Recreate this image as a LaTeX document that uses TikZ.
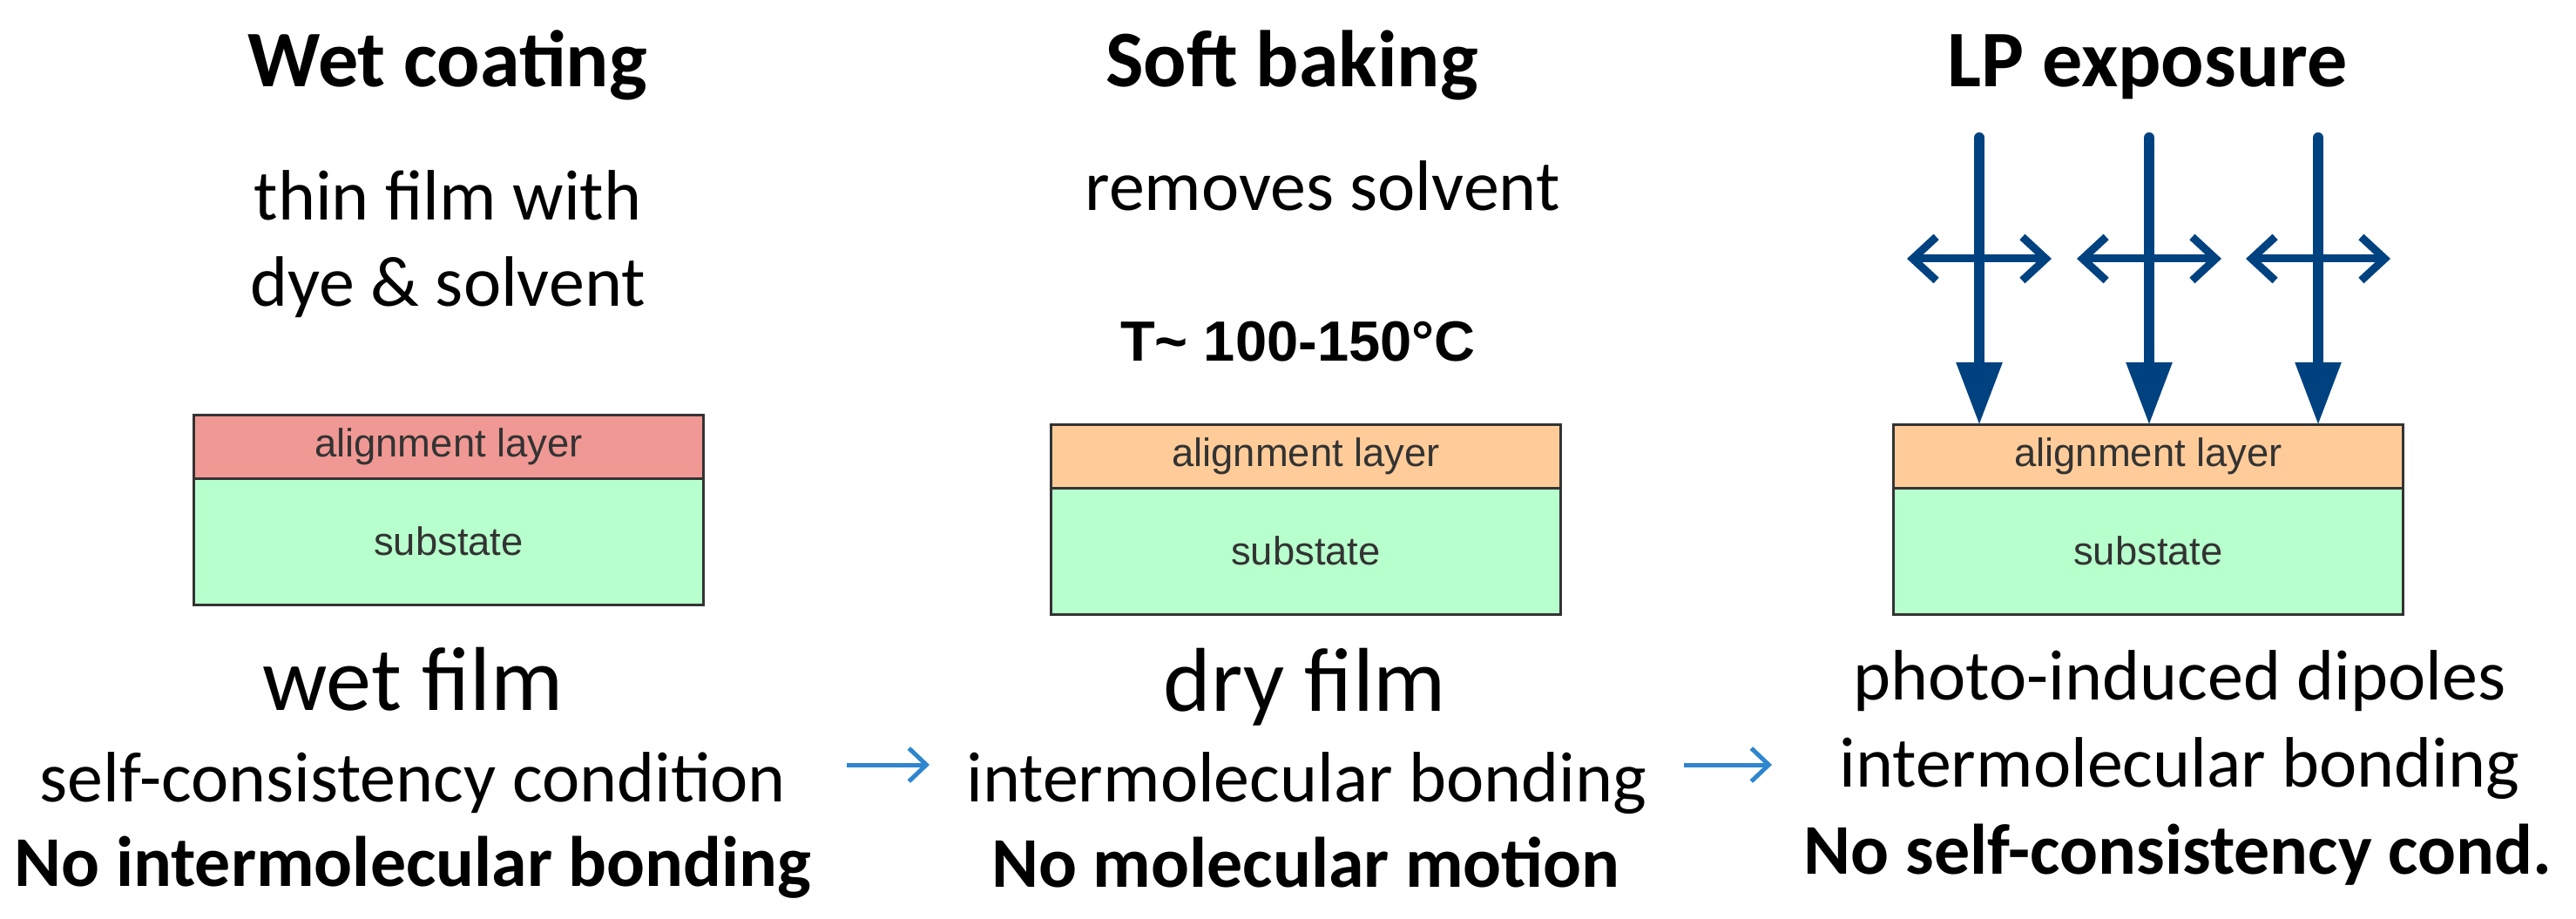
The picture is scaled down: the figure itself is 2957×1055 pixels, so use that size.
\documentclass[tikz,border=0pt]{standalone}
\usepackage{fontspec}
\setmainfont{Carlito}
\newfontfamily\arialfont{Liberation Sans}
\usetikzlibrary{arrows.meta,positioning}
\definecolor{salmon}{HTML}{F09894}
\definecolor{peach}{HTML}{FFCC99}
\definecolor{mint}{HTML}{B7FFCC}
\definecolor{lpblue}{HTML}{004280}
\definecolor{flowblue}{HTML}{2E86CE}
\begin{document}
\begin{tikzpicture}[x=0.01cm,y=-0.01cm,
  title/.style={font=\fontsize{26.2}{30}\selectfont\bfseries,anchor=base,inner sep=0},
  note/.style={font=\fontsize{23.3}{28}\selectfont,anchor=base,inner sep=0},
  big/.style={font=\fontsize{29.6}{34}\selectfont,anchor=base,inner sep=0},
  claim/.style={note,font=\fontsize{23.3}{28}\selectfont\bfseries},
  layer/.style={draw=black!80,line width=0.03cm,minimum width=5.85cm,inner sep=0,outer sep=0,
    text=black!80,font=\arialfont\fontsize{12.9}{14}\selectfont},
  film/.style={layer,minimum height=0.72cm},
  substrate/.style={layer,minimum height=1.45cm},
  ray/.style={lpblue,line width=0.12cm,line cap=round,-{Triangle[length=0.72cm,width=0.5cm]}},
  pol/.style={lpblue,line width=0.09cm,line cap=round,line join=round,
    {Straight Barb[length=0.27cm,width=0.5cm]}-{Straight Barb[length=0.27cm,width=0.5cm]}},
  flow/.style={flowblue,line width=0.05cm,-{Straight Barb[length=0.2cm,width=0.38cm]}}]
  \useasboundingbox (0,0) rectangle (2957,1055);
  % headings
  \node[title] (t1) at (514,100) {Wet coating};
  \node[title] (t2) at (1483,100) {Soft baking};
  \node[title] (t3) at (2465,100) {LP exposure};
  \node[note] (d1a) at (514,253) {thin film with};
  \node[note] (d1b) at (514,352) {dye \& solvent};
  \node[note] (d2) at (1518,242) {removes solvent};
  \node[font=\arialfont\bfseries\fontsize{18.5}{22}\selectfont,anchor=base,inner sep=0] (temp) at (1490,415) {T\textasciitilde{} 100-150°C};
  % layer stacks
  \node[film,fill=salmon] (al1) at (515,513) {alignment layer};
  \node[substrate,fill=mint,below=0pt of al1] (sub1) {substate};
  \node[film,fill=peach] (al2) at (1499,524) {alignment layer};
  \node[substrate,fill=mint,below=0pt of al2] (sub2) {substate};
  \node[film,fill=peach] (al3) at (2466,524) {alignment layer};
  \node[substrate,fill=mint,below=0pt of al3] (sub3) {substate};
  % polarised light
  \foreach \x [count=\i] in {2272,2467,2661} {
    \coordinate (src\i) at (\x,158);
    \draw[ray] (src\i) -- (src\i |- al3.north);
    \draw[pol] (\x-83,297) -- (\x+83,297);
  }
  % results
  \node[big] (s1) at (474,815) {wet film};
  \node[note] (c1) at (474,920) {self-consistency condition};
  \node[claim] (n1) at (474,1017) {No intermolecular bonding};
  \node[big] (s2) at (1498,816) {dry film};
  \node[note] (c2) at (1500,920) {intermolecular bonding};
  \node[claim] (n2) at (1499,1018) {No molecular motion};
  \node[note] (s3) at (2502,803) {photo-induced dipoles};
  \node[note] (c3) at (2502,903) {intermolecular bonding};
  \node[claim] (n3) at (2500,1003) {No self-consistency cond.};
  \coordinate (f1) at (972,878);
  \coordinate (f2) at (1067,878);
  \coordinate (f3) at (1933,878);
  \coordinate (f4) at (2034,878);
  \draw[flow] (f1) -- (f2);
  \draw[flow] (f3) -- (f4);
\end{tikzpicture}
\end{document}
